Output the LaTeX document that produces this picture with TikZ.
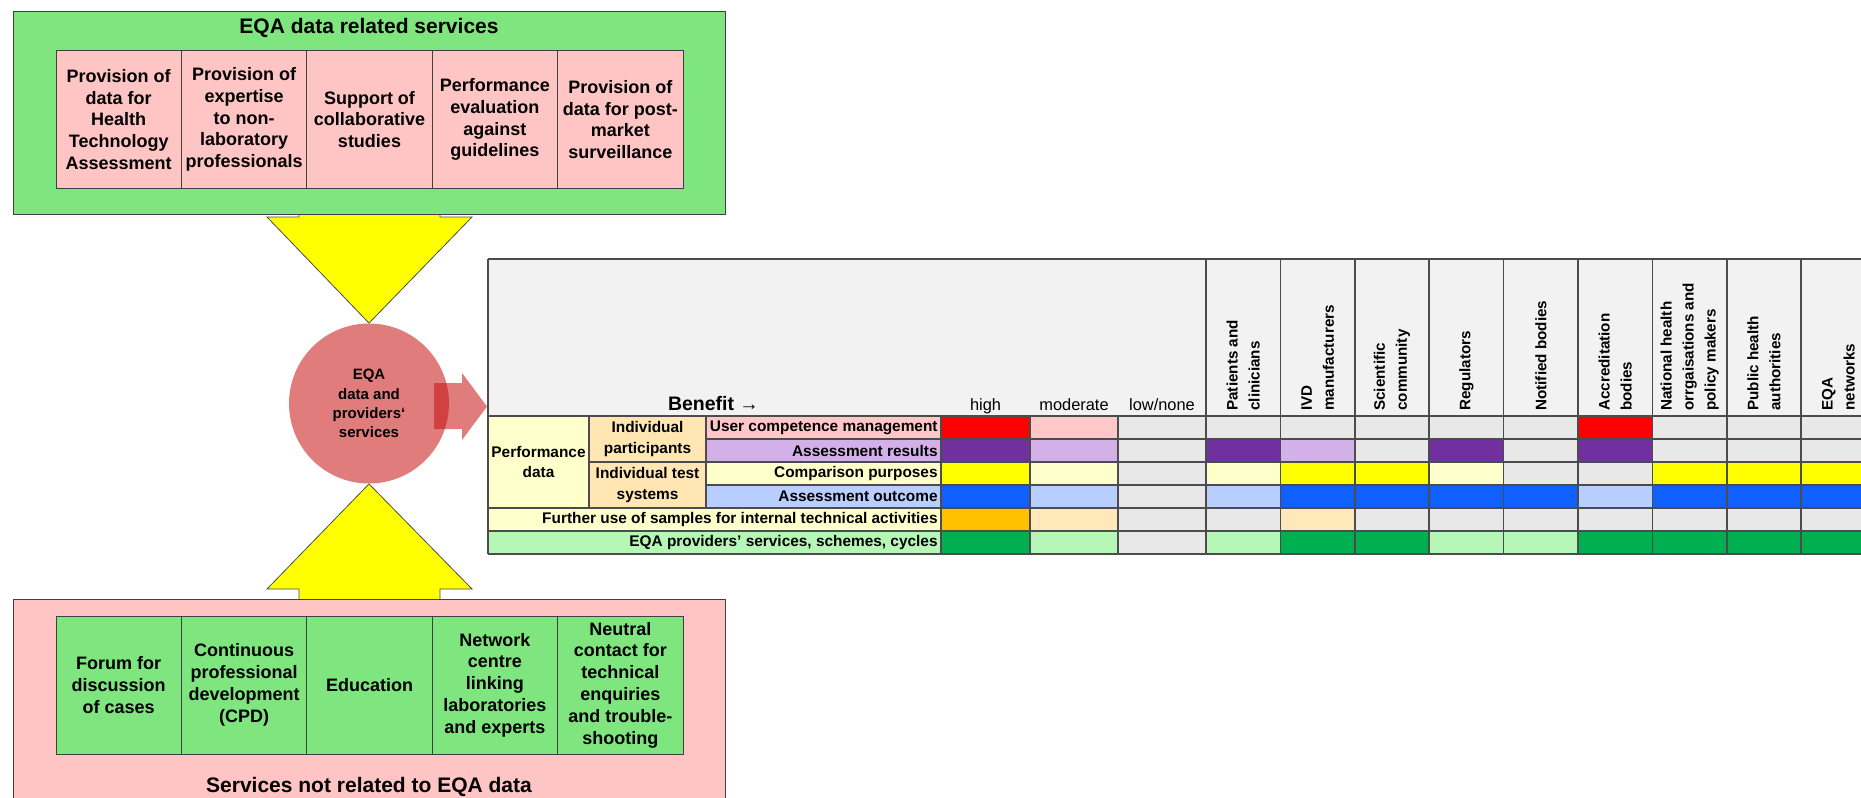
\documentclass[tikz,border=0pt]{standalone}
\usepackage{fontspec}
\setmainfont{Liberation Sans}
\definecolor{boxgreen}{HTML}{7FE57E}
\definecolor{boxpink}{HTML}{FFC4C4}
\definecolor{arrowyellow}{HTML}{FFFF00}
\definecolor{eqared}{HTML}{C71010}
\definecolor{hdrgrey}{HTML}{F2F2F2}
\definecolor{cg}{HTML}{E8E8E8}
\definecolor{cred}{HTML}{FF0000}
\definecolor{cpink}{HTML}{FFC7C7}
\definecolor{cpur}{HTML}{7030A0}
\definecolor{clpur}{HTML}{D3B0E8}
\definecolor{cyel}{HTML}{FFFF00}
\definecolor{cly}{HTML}{FFFFCC}
\definecolor{cblue}{HTML}{1060FF}
\definecolor{clb}{HTML}{B8CEFF}
\definecolor{corange}{HTML}{FFC000}
\definecolor{clo}{HTML}{FFE9BA}
\definecolor{cgreen}{HTML}{00B050}
\definecolor{clg}{HTML}{B6F6B6}
\definecolor{cpeach}{HTML}{FFE6B3}
\def\xs{{941,1030,1118,1206,1280.4,1354.8,1429.2,1503.6,1578,1652.4,1726.8,1801.2,1875.6}}
\newcommand\mycellrow[3]{%
  \foreach \cc [count=\i] in {#3} {%
    \pgfmathsetmacro\xa{\xs[\i-1]}%
    \pgfmathsetmacro\xb{\xs[\i]}%
    \fill[\cc] (\xa,#1) rectangle (\xb,#2);}}
\begin{document}
\begin{tikzpicture}[x=0.5pt,y=-0.5pt,
  boxframe/.style={draw=black!75, line width=0.5pt},
  svc/.style={boxframe, minimum width=62.7pt, minimum height=68.5pt, inner sep=1pt, align=center, font=\fontsize{9}{10.9}\selectfont\bfseries},
  ttl/.style={font=\fontsize{10.5}{12}\selectfont\bfseries, inner sep=0pt},
  tlab/.style={font=\fontsize{7.7}{10.4}\selectfont\bfseries, inner sep=0pt, align=center},
  rlab/.style={tlab, anchor=east},
  lvl/.style={font=\fontsize{8.2}{10}\selectfont, anchor=base, inner sep=0pt},
  stake/.style={font=\fontsize{7.6}{11}\selectfont\bfseries, rotate=90, anchor=west, align=left, inner sep=0pt},
  gridline/.style={draw=black!70, line width=0.75pt},
  yarrow/.style={fill=arrowyellow, draw=black!70, line width=0.4pt},
]
\useasboundingbox (0,0) rectangle (1861,797);
\clip (0,0) rectangle (1861,797);

% central circle
\node[circle, minimum size=80pt, inner sep=0pt, fill=eqared, fill opacity=0.55, text opacity=1,
      align=center, font=\fontsize{7.5}{9.65}\selectfont\bfseries] (eqa) at (369,403.5)
      {EQA\\data and\\providers‘\\services};

% yellow arrows
\path[yarrow] (299,214) -- (299,217) -- (267,217) -- (eqa.north) -- (472,217) -- (440,217) -- (440,214) -- cycle;
\path[yarrow] (299,600) -- (299,589) -- (267,589) -- (eqa.south) -- (472,589) -- (440,589) -- (440,600) -- cycle;

% top box
\path[boxframe, fill=boxgreen] (13,12) rectangle (725,214);
\node[ttl] (ttop) at (369,28) {EQA data related services};
\node[svc, fill=boxpink] (t1) at (118.7,119.5) {Provision of\\data for\\Health\\Technology\\Assessment};
\node[svc, fill=boxpink] (t2) at (244.1,119.5) {Provision of\\expertise\\to non-\\laboratory\\professionals};
\node[svc, fill=boxpink] (t3) at (369.5,119.5) {Support of\\collaborative\\studies};
\node[svc, fill=boxpink] (t4) at (494.9,119.5) {Performance\\evaluation\\against\\guidelines};
\node[svc, fill=boxpink] (t5) at (620.3,119.5) {Provision of\\data for post-\\market\\surveillance};

% bottom box
\path[boxframe, fill=boxpink] (13,599) rectangle (725,810);
\node[ttl] (tbot) at (369,787) {Services not related to EQA data};
\node[svc, fill=boxgreen, minimum height=69pt] (b1) at (118.7,685) {Forum for\\discussion\\of cases};
\node[svc, fill=boxgreen, minimum height=69pt] (b2) at (244.1,685) {Continuous\\professional\\development\\(CPD)};
\node[svc, fill=boxgreen, minimum height=69pt] (b3) at (369.5,685) {Education};
\node[svc, fill=boxgreen, minimum height=69pt] (b4) at (494.9,685) {Network\\centre\\linking\\laboratories\\and experts};
\node[svc, fill=boxgreen, minimum height=69pt] (b5) at (620.3,685) {Neutral\\contact for\\technical\\enquiries\\and trouble-\\shooting};

% red arrow
\fill[eqared, fill opacity=0.55] (434,383) -- (462,383) -- (462,373) -- (487,406.5) -- (462,440) -- (462,429) -- (434,429) -- cycle;

% ---------- table ----------
\fill[hdrgrey] (488,259) rectangle (1880,416);
\mycellrow{416}{439}{cred,cpink,cg,cg,cg,cg,cg,cg,cred,cg,cg,cg}
\mycellrow{439}{462}{cpur,clpur,cg,cpur,clpur,cg,cpur,cg,cpur,cg,cg,cg}
\mycellrow{462}{485}{cyel,cly,cg,cly,cyel,cyel,cly,cg,cg,cyel,cyel,cyel}
\mycellrow{485}{508}{cblue,clb,cg,clb,cblue,cblue,cblue,cblue,clb,cblue,cblue,cblue}
\mycellrow{508}{531}{corange,clo,cg,cg,clo,cg,cg,cg,cg,cg,cg,cg}
\mycellrow{531}{554}{cgreen,clg,cg,clg,cgreen,cgreen,clg,clg,cgreen,cgreen,cgreen,cgreen}
\fill[cly] (488,416) rectangle (589,508);
\fill[cpeach] (589,416) rectangle (706,508);
\fill[cpink] (706,416) rectangle (941,439);
\fill[clpur] (706,439) rectangle (941,462);
\fill[cly] (706,462) rectangle (941,485);
\fill[clb] (706,485) rectangle (941,508);
\fill[cly] (488,508) rectangle (941,531);
\fill[clg] (488,531) rectangle (941,554);

% grid lines
\draw[gridline] (488,259) -- (1880,259);
\draw[gridline] (488,416) -- (1880,416);
\draw[gridline] (706,439) -- (1880,439);
\draw[gridline] (589,462) -- (1880,462);
\draw[gridline] (706,485) -- (1880,485);
\draw[gridline] (488,508) -- (1880,508);
\draw[gridline] (488,531) -- (1880,531);
\draw[gridline] (488,554) -- (1880,554);
\draw[gridline] (488,259) -- (488,554);
\draw[gridline] (589,416) -- (589,508);
\draw[gridline] (706,416) -- (706,508);
\foreach \x in {941,1030,1118} \draw[gridline] (\x,416) -- (\x,554);
\foreach \k in {0,...,8} \draw[gridline] (1206+74.4*\k,259) -- (1206+74.4*\k,554);

% header texts
\node[font=\fontsize{9.75}{12}\selectfont\bfseries, anchor=base, inner sep=0pt] (benefit) at (713.5,410) {Benefit →};
\node[lvl] (high) at (985.5,410) {high};
\node[lvl] (moderate) at (1074,410) {moderate};
\node[lvl] (low) at (1162,410) {low/none};

\node[stake] (s1) at (1243.2,411) {Patients and\\clinicians};
\node[stake] (s2) at (1317.6,411) {IVD\\manufacturers};
\node[stake] (s3) at (1392,411) {Scientific\\community};
\node[stake] (s4) at (1466.4,411) {Regulators};
\node[stake] (s5) at (1540.8,411) {Notified bodies};
\node[stake] (s6) at (1615.2,411) {Accreditation\\bodies};
\node[stake] (s7) at (1689.6,411) {National health\\orrgaisations and\\policy makers};
\node[stake] (s8) at (1764,411) {Public health\\authorities};
\node[stake] (s9) at (1838.4,411) {EQA\\networks};

% row texts
\node[tlab] (perf) at (538.5,462) {Performance\\data};
\node[tlab] (indp) at (647.5,439) {Individual\\participants};
\node[tlab] (indt) at (647.5,485) {Individual test\\systems};
\node[rlab] (r1) at (938,427.5) {User competence management};
\node[rlab] (r2) at (938,450.5) {Assessment results};
\node[rlab] (r3) at (938,473.5) {Comparison purposes};
\node[rlab] (r4) at (938,496.5) {Assessment outcome};
\node[rlab] (r5) at (938,519.5) {Further use of samples for internal technical activities};
\node[rlab] (r6) at (938,542.5) {EQA providers' services, schemes, cycles};
\end{tikzpicture}
\end{document}
